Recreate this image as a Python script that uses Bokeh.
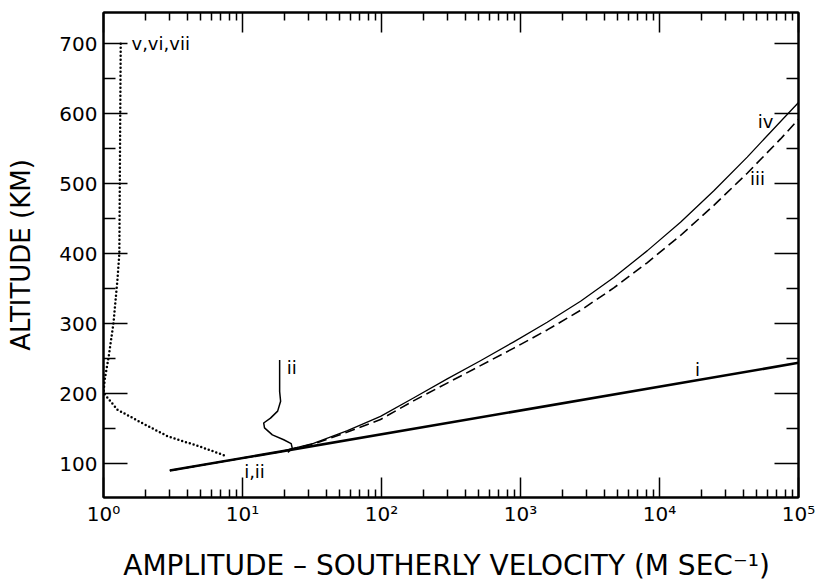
from bokeh.plotting import figure
from bokeh.models import FixedTicker, LogAxis, LinearAxis, Range1d
from bokeh.core.properties import value
from bokeh.embed import file_html
from bokeh.resources import INLINE

# ---- data ----
x_major = [1, 10, 100, 1000, 10000, 100000]
x_tick_labels = ["10⁰", "10¹", "10²", "10³", "10⁴", "10⁵"]
x_minor = [m * 10 ** k for k in range(5) for m in range(2, 10)]
y_major = [100, 200, 300, 400, 500, 600, 700]
y_minor = [50, 150, 250, 350, 450, 550, 650, 750]

# curve i (solid, heavy)
vel_i = [3, 100000]
alt_i = [90, 244]

# curve iv (thin solid)
vel_iv = [3, 10, 18.75, 32.4, 56.9, 98.4, 171, 297, 515, 895, 1556, 2704,
          4688, 8147, 14160, 24600, 42760, 74300, 100000]
alt_iv = [90, 107.8, 117, 129, 147, 167.5, 194, 221, 247, 274, 302, 332,
          366, 404, 445, 490, 538, 589, 616]

# curve iii (dashed)
vel_iii = [3, 10, 18.75, 32.4, 56.9, 98.4, 171, 297, 515, 895, 1556, 2704,
           4688, 8147, 14160, 24600, 42760, 74300, 100000]
alt_iii = [90, 107.8, 117, 128, 145, 163, 190, 215, 240, 265, 291, 319,
           351, 387, 426, 469, 515, 564, 592]

# curve ii (thin solid, wiggle)
vel_ii = [18.5, 18.5, 18.8, 17.9, 15.9, 14.2, 14.4, 16.4, 19.8, 22.4, 22.8, 21.2]
alt_ii = [248, 203, 189, 175, 165, 158, 151, 141, 134, 128.5, 122, 116]

# curves v, vi, vii (dotted)
vel_v = [1.33, 1.32, 1.31, 1.30, 1.26, 1.18, 1.09, 1.02, 1.0, 1.26, 1.85, 2.89, 4.99, 7.8]
alt_v = [700, 600, 500, 400, 363, 301, 253, 220, 201, 177, 159, 139, 124, 110]

# curve labels
lab_text = ["i", "i,ii", "ii", "iii", "iv"]
lab_vel = [18750, 12.2, 22.6, 50700, 57900]
lab_alt = [234, 88.6, 238, 508, 589]
lab_v_text = ["v,vi,vii"]
lab_v_vel = [1.59]
lab_v_alt = [700]

FONT = "DejaVu Sans"

p = figure(width=819, height=584, x_axis_type="log",
           x_range=Range1d(1, 1e5), y_range=Range1d(51.5, 744.7),
           output_backend="svg", toolbar_location=None,
           min_border_left=103, min_border_right=21,
           min_border_top=12, min_border_bottom=86)

p.background_fill_color = "white"
p.border_fill_color = "white"
p.outline_line_color = "black"
p.outline_line_width = 2
p.xgrid.visible = False
p.ygrid.visible = False

xticker = FixedTicker(ticks=x_major, minor_ticks=x_minor)
yticker = FixedTicker(ticks=y_major, minor_ticks=y_minor)
overrides = {t: l for t, l in zip(x_major, x_tick_labels)}

def style_common(ax):
    ax.major_tick_out = 0
    ax.minor_tick_out = 0
    ax.major_tick_line_color = "black"
    ax.minor_tick_line_color = "black"
    ax.major_tick_line_width = 1.5
    ax.minor_tick_line_width = 1.5
    ax.axis_line_color = "black"
    ax.axis_line_width = 2

def hide_labels(ax):
    ax.major_label_text_font_size = "1px"
    ax.major_label_text_alpha = 0
    ax.major_label_standoff = 0

for ax in (p.xaxis[0],):
    ax.ticker = xticker
    ax.major_tick_in = 20
    ax.minor_tick_in = 8
    style_common(ax)
    ax.major_label_overrides = overrides
    ax.major_label_text_font = FONT
    ax.major_label_text_font_size = "20px"
    ax.major_label_text_color = "black"
    ax.major_label_standoff = 4
    ax.axis_label = "AMPLITUDE – SOUTHERLY VELOCITY  (M SEC⁻¹)"
    ax.axis_label_text_font = FONT
    ax.axis_label_text_font_size = "28px"
    ax.axis_label_text_font_style = "normal"
    ax.axis_label_text_color = "black"
    ax.axis_label_standoff = 20

for ax in (p.yaxis[0],):
    ax.ticker = yticker
    ax.major_tick_in = 24
    ax.minor_tick_in = 12
    style_common(ax)
    ax.major_label_text_font = FONT
    ax.major_label_text_font_size = "20px"
    ax.major_label_text_color = "black"
    ax.major_label_standoff = 6
    ax.axis_label = "ALTITUDE (KM)"
    ax.axis_label_text_font = FONT
    ax.axis_label_text_font_size = "26px"
    ax.axis_label_text_font_style = "normal"
    ax.axis_label_text_color = "black"
    ax.axis_label_standoff = 20

top = LogAxis(ticker=xticker, major_tick_in=20, minor_tick_in=8)
style_common(top)
hide_labels(top)
p.add_layout(top, "above")

right = LinearAxis(ticker=yticker, major_tick_in=24, minor_tick_in=12)
style_common(right)
hide_labels(right)
p.add_layout(right, "right")

# curves
p.line(vel_i, alt_i, line_color="black", line_width=2.6)
p.line(vel_iv, alt_iv, line_color="black", line_width=1.3, line_join="round")
p.line(vel_iii, alt_iii, line_color="black", line_width=1.6, line_dash="10 5",
       line_join="round")
p.line(vel_ii, alt_ii, line_color="black", line_width=1.5, line_join="round")
p.line(vel_v, alt_v, line_color="black", line_width=2.5, line_dash="0 4",
       line_cap="round", line_join="round")

p.text(x=lab_vel, y=lab_alt, text=lab_text, text_font=value(FONT),
       text_font_size="18px", text_align="center", text_baseline="middle",
       text_color="black")
p.text(x=lab_v_vel, y=lab_v_alt, text=lab_v_text, text_font=value(FONT),
       text_font_size="18px", text_align="left", text_baseline="middle",
       text_color="black")

open("out.html", "w").write(file_html(p, INLINE))
